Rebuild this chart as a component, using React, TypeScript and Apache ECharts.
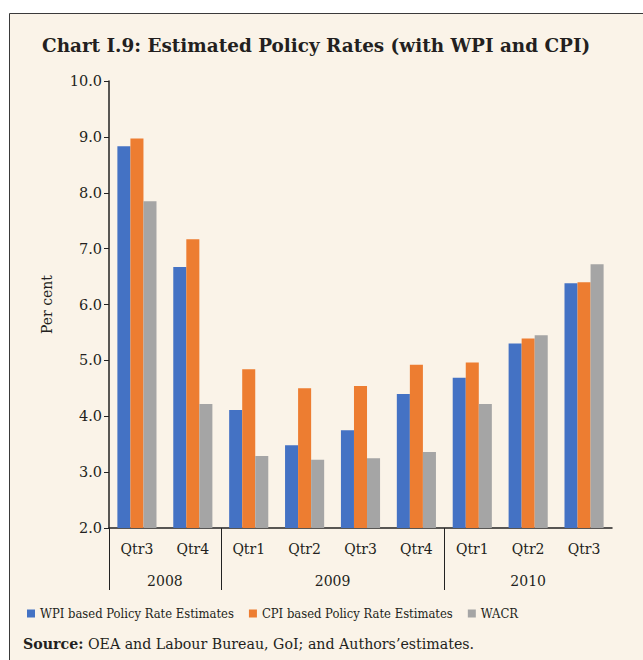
import React, { useEffect, useRef } from "react";
import * as echarts from "echarts";

const quarters = ["Qtr3", "Qtr4", "Qtr1", "Qtr2", "Qtr3", "Qtr4", "Qtr1", "Qtr2", "Qtr3"];
const years = ["2008", "2009", "2010"];
const yearSpans = [2, 4, 3];
const wpi = [8.83, 6.67, 4.11, 3.48, 3.75, 4.4, 4.69, 5.3, 6.38];
const cpi = [8.97, 7.17, 4.84, 4.5, 4.54, 4.92, 4.96, 5.39, 6.4];
const wacr = [7.85, 4.22, 3.29, 3.22, 3.25, 3.36, 4.22, 5.45, 6.72];
const seriesNames = [
  "WPI based Policy Rate Estimates",
  "CPI based Policy Rate Estimates",
  "WACR",
];
const yTicks = { min: 2, max: 10, interval: 1 };

const FONT = "DejaVu Serif";
const COND = "'DejaVu Serif Condensed', 'Liberation Serif', serif";
const TXT = "#231f20";

export default function App() {
  const ref = useRef<HTMLDivElement>(null);
  useEffect(() => {
    if (!ref.current) return;
    const chart = echarts.init(ref.current, null, { renderer: "svg" });
    const bounds: number[] = [0];
    yearSpans.forEach((s) => bounds.push(bounds[bounds.length - 1] + s));
    const centers = yearSpans.map((s, i) => bounds[i] + s / 2);
    const grid = { left: 109, right: 31, top: 81, bottom: 132 };
    chart.setOption({
      animation: false,
      backgroundColor: "#ffffff",
      textStyle: { fontFamily: FONT, color: TXT },
      graphic: [
        {
          type: "rect",
          z: -10,
          silent: true,
          shape: { x: 9.5, y: 13.5, width: 700, height: 700 },
          style: { fill: "#faf3e8", stroke: "#3a3a3a", lineWidth: 1 },
        },
        {
          type: "text",
          left: 23,
          top: 637,
          style: {
            text: "{b|Source:} OEA and Labour Bureau, GoI; and Authors\u2019estimates.",
            fontFamily: FONT,
            fontSize: 14.2,
            fill: TXT,
            rich: { b: { fontWeight: "bold", fontFamily: FONT, fontSize: 14.2, fill: TXT } },
          },
        },
      ],
      title: {
        text: "Chart I.9: Estimated Policy Rates (with WPI and CPI)",
        left: 37,
        top: 31,
        textStyle: { fontFamily: FONT, fontWeight: "bold", fontSize: 18.4, color: TXT },
      },
      legend: {
        left: 22,
        top: 602,
        width: 1000,
        itemWidth: 8,
        itemHeight: 8,
        itemGap: 15,
        icon: "rect",
        textStyle: { fontFamily: COND, fontSize: 12.9, color: TXT },
        data: seriesNames,
      },
      grid: [grid, grid],
      xAxis: [
        {
          type: "category",
          gridIndex: 0,
          data: quarters,
          axisLine: { lineStyle: { color: "#222", width: 1.5 } },
          axisTick: { interval: 0, length: 31, lineStyle: { color: "#222" } },
          axisLabel: { interval: 0, margin: 14, fontSize: 14, fontFamily: FONT, color: TXT },
        },
        {
          type: "value",
          gridIndex: 1,
          min: 0,
          max: bounds[bounds.length - 1],
          axisLine: { show: false },
          splitLine: { show: false },
          axisTick: {
            show: true,
            length: 62,
            customValues: bounds.slice(0, -1),
            lineStyle: { color: "#222" },
          },
          axisLabel: {
            customValues: centers,
            margin: 46,
            fontSize: 14,
            fontFamily: FONT,
            color: TXT,
            formatter: (v: number) => {
              const i = centers.indexOf(v);
              return i >= 0 ? years[i] : "";
            },
          },
        },
      ],
      yAxis: [
        {
          type: "value",
          gridIndex: 0,
          min: yTicks.min,
          max: yTicks.max,
          interval: yTicks.interval,
          name: "Per cent",
          nameLocation: "middle",
          nameGap: 55,
          nameTextStyle: { fontFamily: FONT, fontSize: 14, color: TXT },
          axisLine: { show: true, lineStyle: { color: "#222", width: 1.5 } },
          axisTick: { show: true, length: 5, lineStyle: { color: "#222" } },
          splitLine: { show: false },
          axisLabel: {
            margin: 7,
            fontSize: 14.5,
            fontFamily: FONT,
            color: TXT,
            formatter: (v: number) => v.toFixed(1),
          },
        },
        {
          type: "value",
          gridIndex: 1,
          min: 0,
          max: 1,
          show: false,
        },
      ],
      series: [
        { name: seriesNames[0], data: wpi, color: "#4472c4" },
        { name: seriesNames[1], data: cpi, color: "#ed7d31" },
        { name: seriesNames[2], data: wacr, color: "#a5a5a5" },
      ].map((s) => ({
        type: "bar",
        name: s.name,
        data: s.data,
        xAxisIndex: 0,
        yAxisIndex: 0,
        barGap: "0%",
        barCategoryGap: "30%",
        itemStyle: { color: s.color },
      })),
    });
    return () => chart.dispose();
  }, []);
  return (
    <div
      ref={ref}
      style={{ position: "fixed", left: 0, top: 0, width: 643, height: 660 }}
    />
  );
}
